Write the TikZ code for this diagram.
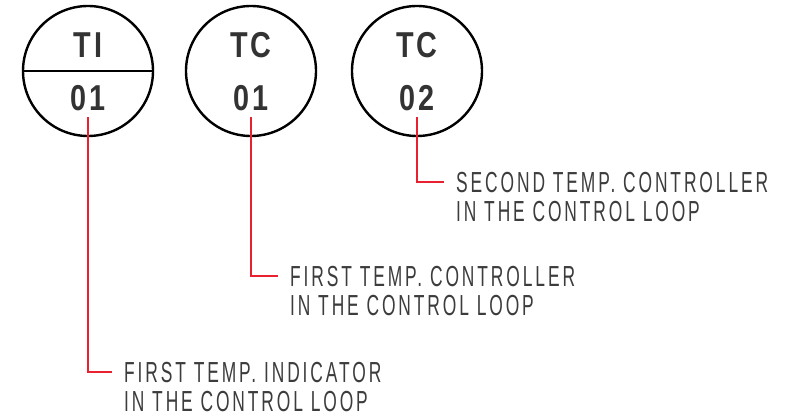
\documentclass[tikz,border=0pt]{standalone}
\usepackage{fontspec}
\usetikzlibrary{positioning,calc}
\setmainfont{Liberation Sans}
\newfontfamily\tagfont[FakeStretch=0.8,LetterSpace=8]{Liberation Sans Bold}
\newfontfamily\notefont[FakeStretch=0.6,LetterSpace=10]{Liberation Sans}
\definecolor{signalred}{HTML}{E8202F}
\definecolor{inkgray}{HTML}{333333}
\definecolor{notegray}{HTML}{3C3C3C}

\begin{document}
\begin{tikzpicture}[x=1pt, y=1pt,
    bubble/.style={circle, draw=black, line width=2.4pt, minimum size=130pt, inner sep=0pt},
    tag/.style={inner sep=0pt, text height=26pt, text depth=0pt, font=\tagfont\fontsize{36}{36}\selectfont, text=inkgray},
    note/.style={inner sep=0pt, align=left, anchor=north west, font=\notefont\fontsize{29}{29.5}\selectfont, text=notegray},
    leader/.style={draw=signalred, line width=1.6pt}]
\useasboundingbox (0,0) rectangle (804,-417);

% instrument bubbles
\node[bubble] (ti) at (88,-71) {};
\draw[line width=2.4pt] (ti.west) -- (ti.east);
\node[tag] (ti-fn) at ($(ti.center)+(0,26)$) {TI};
\node[tag] (ti-num) at ($(ti.center)+(0,-27)$) {01};

\node[bubble] (tc1) at (251,-71) {};
\node[tag] (tc1-fn) at ($(tc1.center)+(0,26)$) {TC};
\node[tag] (tc1-num) at ($(tc1.center)+(0,-27)$) {01};

\node[bubble] (tc2) at (417,-71) {};
\node[tag] (tc2-fn) at ($(tc2.center)+(0,26)$) {TC};
\node[tag] (tc2-num) at ($(tc2.center)+(0,-27)$) {02};

% descriptions
\node[note] (tc2-note) at (456,-172) {SECOND TEMP. CONTROLLER\\IN THE CONTROL LOOP};
\node[note] (tc1-note) at (290,-266) {FIRST TEMP. CONTROLLER\\IN THE CONTROL LOOP};
\node[note] (ti-note) at (124,-362) {FIRST TEMP. INDICATOR\\IN THE CONTROL LOOP};

% leader lines
\draw[leader] ([yshift=-6pt]ti-num.south) |- ([xshift=-12pt,yshift=-10pt]ti-note.north west);
\draw[leader] ([yshift=-6pt]tc1-num.south) |- ([xshift=-12pt,yshift=-10pt]tc1-note.north west);
\draw[leader] ([yshift=-6pt]tc2-num.south) |- ([xshift=-12pt,yshift=-10pt]tc2-note.north west);
\end{tikzpicture}
\end{document}
